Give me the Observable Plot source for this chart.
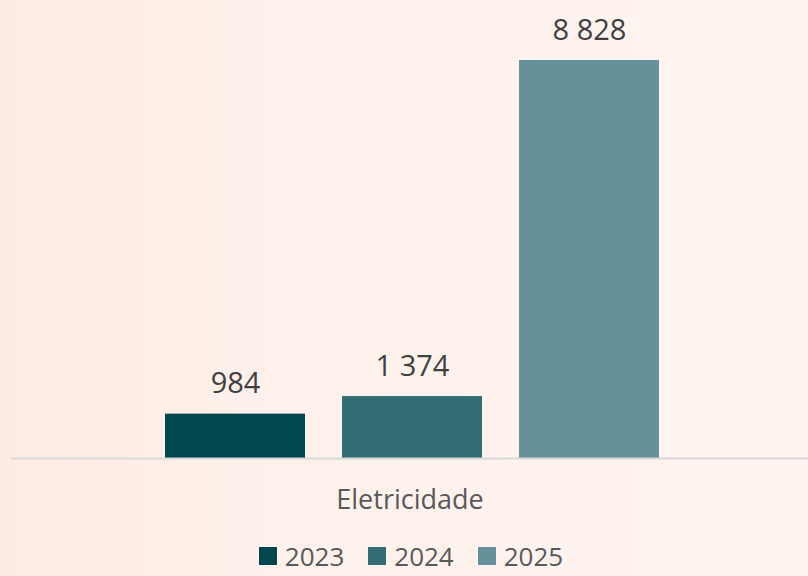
<!DOCTYPE html>
<html>
<head>
<meta charset="utf-8">
<script src="https://cdn.jsdelivr.net/npm/d3@7"></script>
<script src="https://cdn.jsdelivr.net/npm/@observablehq/plot@0.6"></script>
<style>
  html, body { margin: 0; padding: 0; }
  body {
    width: 808px; height: 576px; overflow: hidden;
    background: linear-gradient(to right, #fdebe3 0%, #fef1ec 40%, #fff4f0 100%);
    font-family: "Open Sans", sans-serif;
  }
  #chart svg { display: block; }
  #legend {
    display: flex; justify-content: center; align-items: center;
    height: 46px; gap: 24px; padding-left: 14px; padding-top: 6px; box-sizing: border-box;
    font-size: 26px; line-height: 30px; color: #595959;
  }
  #legend .item { display: flex; align-items: center; gap: 8px; }
  #legend .sw { width: 18px; height: 18px; display: inline-block; }
</style>
</head>
<body>
<div id="chart"></div>
<div id="legend"></div>
<script>
const category = "Eletricidade";
const years = ["2023", "2024", "2025"];
const values = [984, 1374, 8828];
const labels = ["984", "1 374", "8 828"];
const colors = ["#02474f", "#336d74", "#67919a"];

const data = years.map((y, i) => ({year: y, value: values[i], label: labels[i]}));

const plot = Plot.plot({
  width: 808,
  height: 530,
  marginLeft: 11,
  marginRight: 0,
  marginTop: 0,
  marginBottom: 72,
  style: {background: "transparent", fontFamily: "Open Sans, sans-serif"},
  x: {domain: years, range: [127, 698], padding: 0.208, axis: null},
  y: {domain: [0, 8828], range: [458, 60], axis: null},
  color: {domain: years, range: colors},
  marks: [
    Plot.barY(data, {x: "year", y: "value", fill: "year"}),
    Plot.ruleY([0], {stroke: "#d9d9d9", strokeWidth: 2}),
    Plot.text(data, {x: "year", y: "value", text: "label", dy: -30, fontSize: 29, fill: "#404040", lineAnchor: "middle"}),
    Plot.text([category], {frameAnchor: "bottom", dy: 42, fontSize: 27, fill: "#595959", lineAnchor: "middle"})
  ]
});
document.getElementById("chart").appendChild(plot);

const legend = document.getElementById("legend");
years.forEach((y, i) => {
  const item = document.createElement("div");
  item.className = "item";
  const sw = document.createElement("span");
  sw.className = "sw";
  sw.style.background = colors[i];
  const t = document.createElement("span");
  t.textContent = y;
  item.appendChild(sw);
  item.appendChild(t);
  legend.appendChild(item);
});
</script>
</body>
</html>
